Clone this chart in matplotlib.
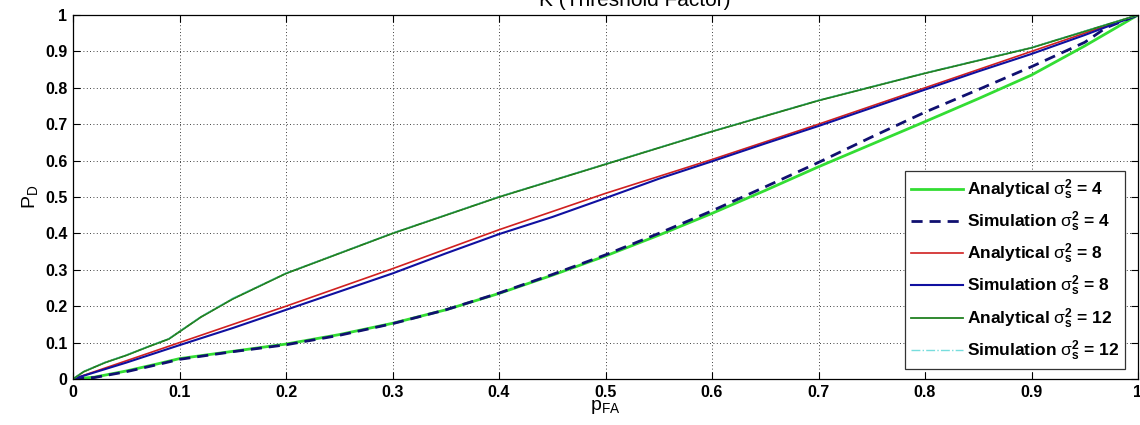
import matplotlib
matplotlib.use("Agg")
import matplotlib.pyplot as plt

plt.rcParams['font.family'] = ['Liberation Sans', 'DejaVu Sans']
plt.rcParams['mathtext.fontset'] = 'custom'
plt.rcParams['mathtext.rm'] = 'Liberation Sans'
plt.rcParams['mathtext.it'] = 'Liberation Sans:italic'
plt.rcParams['mathtext.bf'] = 'Liberation Sans:bold'

# sigma_s^2 = 4
x_an4 = [0, 0.02, 0.05, 0.08, 0.1, 0.15, 0.2, 0.25, 0.3, 0.35, 0.4, 0.45, 0.5,
         0.55, 0.6, 0.65, 0.7, 0.75, 0.8, 0.85, 0.9, 0.95, 1.0]
y_an4 = [0, 0.005, 0.022, 0.042, 0.056, 0.076, 0.096, 0.122, 0.153, 0.19, 0.235,
         0.285, 0.338, 0.395, 0.455, 0.518, 0.583, 0.645, 0.707, 0.77, 0.835, 0.915, 1.0]
x_sim4 = [0, 0.02, 0.05, 0.08, 0.1, 0.15, 0.2, 0.25, 0.3, 0.35, 0.4, 0.45, 0.5,
          0.55, 0.6, 0.65, 0.7, 0.75, 0.8, 0.85, 0.9, 0.95, 0.97, 1.0]
y_sim4 = [0, 0.004, 0.02, 0.04, 0.054, 0.075, 0.094, 0.12, 0.152, 0.19, 0.236,
          0.287, 0.341, 0.4, 0.462, 0.528, 0.595, 0.665, 0.733, 0.795, 0.858, 0.925, 0.965, 1.0]

# sigma_s^2 = 8
x_an8 = [0, 0.05, 0.1, 0.2, 0.3, 0.4, 0.5, 0.6, 0.7, 0.8, 0.9, 1.0]
y_an8 = [0, 0.05, 0.1, 0.2, 0.303, 0.41, 0.51, 0.603, 0.70, 0.80, 0.90, 1.0]
x_sim8 = [0, 0.05, 0.1, 0.15, 0.2, 0.25, 0.3, 0.35, 0.4, 0.45, 0.5, 0.55, 0.6,
          0.65, 0.7, 0.75, 0.8, 0.85, 0.9, 0.95, 1.0]
y_sim8 = [0, 0.045, 0.093, 0.14, 0.19, 0.24, 0.29, 0.345, 0.398, 0.445, 0.497,
          0.55, 0.598, 0.647, 0.695, 0.745, 0.795, 0.845, 0.893, 0.945, 1.0]

# sigma_s^2 = 12
x_an12 = [0, 0.01, 0.03, 0.05, 0.07, 0.09, 0.1, 0.12, 0.15, 0.2, 0.25, 0.3, 0.35,
          0.4, 0.5, 0.6, 0.7, 0.8, 0.9, 0.95, 1.0]
y_an12 = [0, 0.02, 0.045, 0.065, 0.088, 0.11, 0.13, 0.17, 0.22, 0.29, 0.345, 0.40,
          0.45, 0.50, 0.59, 0.68, 0.765, 0.84, 0.91, 0.955, 1.0]
y_sim12 = [0, 0.021, 0.046, 0.066, 0.089, 0.111, 0.131, 0.171, 0.222, 0.291, 0.346,
           0.401, 0.451, 0.501, 0.591, 0.681, 0.766, 0.841, 0.911, 0.956, 1.0]

x_ticks = [0, 0.1, 0.2, 0.3, 0.4, 0.5, 0.6, 0.7, 0.8, 0.9, 1]
y_ticks = [0, 0.1, 0.2, 0.3, 0.4, 0.5, 0.6, 0.7, 0.8, 0.9, 1]
tick_labels = ['0', '0.1', '0.2', '0.3', '0.4', '0.5', '0.6', '0.7', '0.8', '0.9', '1']

sig = r'$\mathrm{σ}^\mathbf{2}_\mathbf{s}$'

fig = plt.figure(figsize=(11.4, 4.25), dpi=100)
ax = fig.add_axes([73 / 1140, 1 - 379 / 425, (1138 - 73) / 1140, (379 - 15) / 425])

ax.plot(x_an4, y_an4, color='#33dd33', lw=2.0, label='Analytical ' + sig + ' = 4')
ax.plot(x_sim4, y_sim4, color='#101070', lw=2.0, ls=(0, (4, 2.5)),
        label='Simulation ' + sig + ' = 4')
ax.plot(x_an8, y_an8, color='#d02020', lw=1.2, label='Analytical ' + sig + ' = 8')
ax.plot(x_sim8, y_sim8, color='#1010a0', lw=1.5, label='Simulation ' + sig + ' = 8')
ax.plot(x_an12, y_an12, color='#208020', lw=1.3, label='Analytical ' + sig + ' = 12')
ax.plot(x_an12, y_sim12, color='#77dddd', lw=1.0, ls='-.',
        label='Simulation ' + sig + ' = 12')
# keep the dark green analytical line on top as in the reference
ax.plot(x_an12, y_an12, color='#208020', lw=1.0)

ax.set_xlim(0, 1)
ax.set_ylim(0, 1)
ax.set_xticks(x_ticks)
ax.set_yticks(y_ticks)
ax.set_xticklabels(tick_labels, fontweight='bold', fontsize=11.5)
ax.set_yticklabels(tick_labels, fontweight='bold', fontsize=11.5)
ax.tick_params(direction='in', length=5, top=True, right=True, width=0.8, pad=4)
ax.grid(True, color='black', ls=(0, (1, 3)), lw=0.6)
for s in ax.spines.values():
    s.set_linewidth(0.9)

ax.set_xlabel(r'p$_{\mathregular{FA}}$', fontsize=14, labelpad=-1)
ax.set_ylabel(r'P$_{\mathregular{D}}$', fontsize=14, labelpad=4)

fig.text(635 / 1140, 1.0, 'K (Threshold Factor)', fontsize=15, ha='center', va='center')

leg = ax.legend(loc='lower right', bbox_to_anchor=(1125 / 1140, 1 - 369 / 425),
                bbox_transform=fig.transFigure,
                prop={'weight': 'bold', 'size': 12.5}, fancybox=False, framealpha=1,
                edgecolor='#333333', handlelength=3.0, handletextpad=0.2,
                labelspacing=0.45, borderpad=0.35, borderaxespad=0)
leg.get_frame().set_linewidth(0.9)

fig.savefig('out.png', dpi=100)
